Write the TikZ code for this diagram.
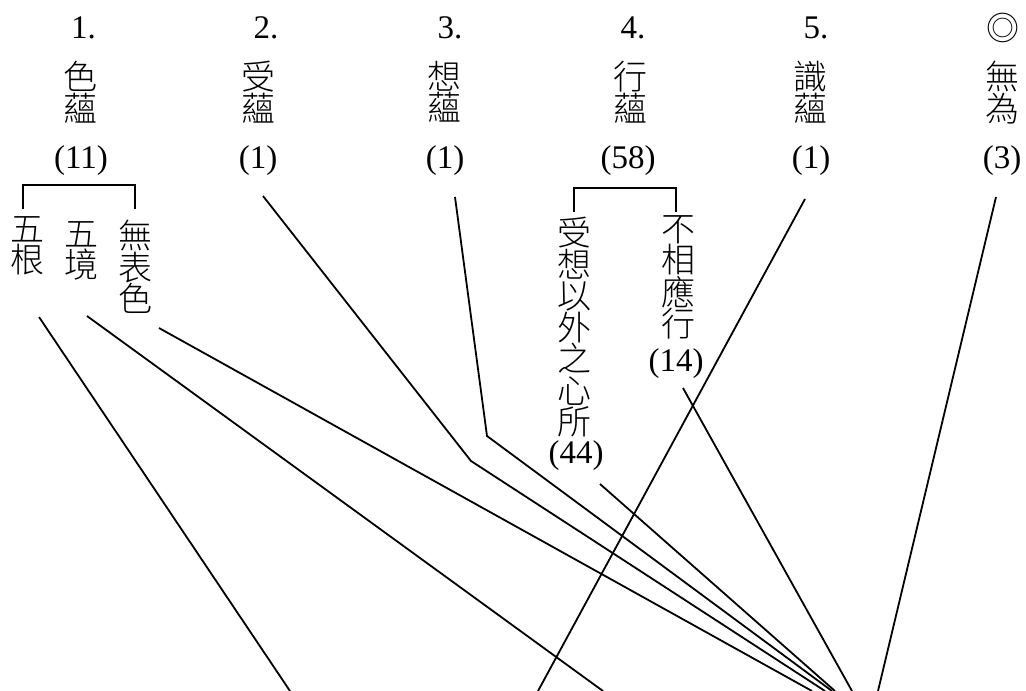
\documentclass[tikz,border=0pt]{standalone}
\usepackage{fontspec}
\setmainfont{Liberation Serif}
\newfontfamily\cjkf{Noto Sans CJK TC}[UprightFont={* Light}]
\begin{document}
\begin{tikzpicture}[x=1pt,y=-1pt,
  lbl/.style={font=\fontsize{33}{33}\selectfont, inner sep=0pt},
  cjk/.style={font=\cjkf\fontsize{34}{31.5}\selectfont, align=center, inner sep=0pt, anchor=north},
  ln/.style={line width=1.8pt, line join=miter}]
\useasboundingbox (0,0) rectangle (1026,691);
% header numbers
\node[lbl] (n1) at (83.5,28) {1.};
\node[lbl] (n2) at (266,28) {2.};
\node[lbl] (n3) at (450,28) {3.};
\node[lbl] (n4) at (633,28) {4.};
\node[lbl] (n5) at (816,28) {5.};
\node[lbl,font=\cjkf\fontsize{33}{33}\selectfont] (n6) at (1003,28) {◎};
% names
\node[cjk] (c1) at (80,61) {色\\蘊};
\node[cjk] (c2) at (258,61) {受\\蘊};
\node[cjk] (c3) at (444,61) {想\\蘊};
\node[cjk] (c4) at (630,61) {行\\蘊};
\node[cjk] (c5) at (810,61) {識\\蘊};
\node[cjk] (c6) at (1002,61) {無\\為};
% counts
\node[lbl] (k1) at (81,161) {(11)};
\node[lbl] (k2) at (258,161) {(1)};
\node[lbl] (k3) at (445,161) {(1)};
\node[lbl] (k4) at (628,161) {(58)};
\node[lbl] (k5) at (811,161) {(1)};
\node[lbl] (k6) at (1002,161) {(3)};
% sub items of 1
\node[cjk] (s1) at (27,216) {五\\根};
\node[cjk] (s2) at (81,221) {五\\境};
\node[cjk] (s3) at (135,220) {無\\表\\色};
% sub items of 4
\node[cjk] (s4) at (574,217) {受\\想\\以\\外\\之\\心\\所};
\node[lbl] (k44) at (576,456) {(44)};
\node[cjk] (s5) at (678,215) {不\\相\\應\\行};
\node[lbl] (k14) at (676,364) {(14)};
% brackets
\coordinate (b1l) at (23,209);
\coordinate (b1r) at (135,209);
\coordinate (b4l) at (574,212);
\coordinate (b4r) at (676,212);
\draw[ln] (b1l) -- (23,185) -- (135,185) -- (b1r);
\draw[ln] (b4l) -- (574,188) -- (676,188) -- (b4r);
% connector start points
\coordinate (a1) at (39,317);
\coordinate (a2) at (87,316);
\coordinate (a3) at (159,328);
\coordinate (a4) at (263,196);
\coordinate (a5) at (455,197);
\coordinate (a6) at (805,199);
\coordinate (a7) at (996,197);
\coordinate (a8) at (683,388);
\coordinate (a9) at (600,484);
% bends
\coordinate (m4) at (471,461);
\coordinate (m5) at (487,436);
% end points at lower edge
\coordinate (e1) at (290,691);
\coordinate (e2) at (603,691);
\coordinate (e3) at (812,691);
\coordinate (e4) at (825,691);
\coordinate (e5) at (832,691);
\coordinate (e6) at (538,691);
\coordinate (e7) at (878,691);
\coordinate (e8) at (852,691);
\coordinate (e9) at (835,691);
\draw[ln] (a1) -- (e1);
\draw[ln] (a2) -- (e2);
\draw[ln] (a3) -- (e3);
\draw[ln] (a4) -- (m4) -- (e4);
\draw[ln] (a5) -- (m5) -- (e5);
\draw[ln] (a6) -- (e6);
\draw[ln] (a7) -- (e7);
\draw[ln] (a8) -- (e8);
\draw[ln] (a9) -- (e9);
\end{tikzpicture}
\end{document}
